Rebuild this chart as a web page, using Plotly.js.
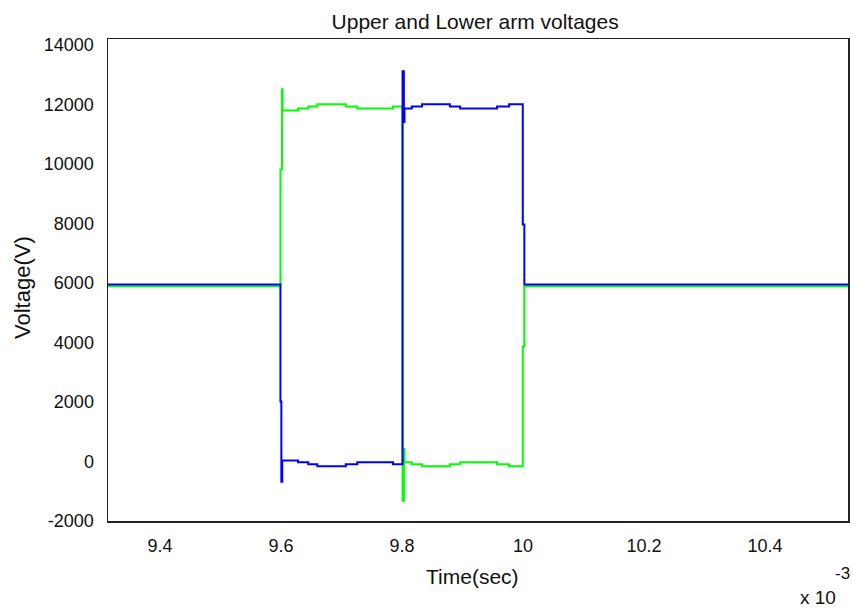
<!DOCTYPE html>
<html>
<head>
<meta charset="utf-8">
<script src="https://cdn.plot.ly/plotly-3.0.1.min.js"></script>
<style>html,body{margin:0;padding:0;background:#fff;}#chart{width:853px;height:610px;}</style>
</head>
<body>
<div id="chart"></div>
<script>
// time in units of 1e-3 s; step-wise (hv) samples
const upperTime = [9.314, 9.5990, 9.6005, 9.6020, 9.628, 9.645, 9.660, 9.707, 9.726, 9.785,
  9.8008, 9.8030, 9.8040, 9.816, 9.833, 9.879, 9.896, 9.957, 9.977, 9.9995, 10.0021, 10.537];
const upperVolt = [5946, 2017, -677, 30, -24, -91, -158, -91, -24, -91,
  13118, 11411, 11862, 11929, 12007, 11929, 11862, 11929, 12007, 7963, 5946, 5946];

const lowerTime = [9.314, 9.5990, 9.6015, 9.6025, 9.628, 9.645, 9.660, 9.707, 9.726, 9.785,
  9.8008, 9.8030, 9.8040, 9.816, 9.833, 9.879, 9.896, 9.957, 9.977, 9.9995, 10.0020, 10.537];
const lowerVolt = [5889, 9818, 12512, 11795, 11862, 11929, 12007, 11929, 11862, 11929,
  -1316, 424, -24, -91, -158, -91, -24, -91, -158, 3869, 5889, 5889];

const xTicks = [9.4, 9.6, 9.8, 10, 10.2, 10.4];
const xTickLabels = ['9.4', '9.6', '9.8', '10', '10.2', '10.4'];
const yTicks = [-2000, 0, 2000, 4000, 6000, 8000, 10000, 12000, 14000];
const yTickLabels = ['-2000', '0', '2000', '4000', '6000', '8000', '10000', '12000', '14000'];

const FONT = '"Liberation Sans", Arial, sans-serif';
const C = '#111';

const traces = [
  {x: lowerTime, y: lowerVolt, mode: 'lines', line: {color: '#00ff00', width: 2, shape: 'hv'}, name: 'Lower'},
  {x: upperTime, y: upperVolt, mode: 'lines', line: {color: '#0000ff', width: 2, shape: 'hv'}, name: 'Upper'}
];

const layout = {
  width: 853, height: 610,
  margin: {l: 108, r: 5, t: 39, b: 89, pad: 0},
  paper_bgcolor: '#fff', plot_bgcolor: '#fff',
  showlegend: false,
  font: {family: FONT, size: 18, color: C},
  title: {text: 'Upper and Lower arm voltages', font: {family: FONT, size: 21, color: C},
    x: 0.557, xanchor: 'center', y: 1 - 22/610, yanchor: 'middle', yref: 'container', xref: 'container'},
  xaxis: {range: [9.314, 10.537], tickvals: xTicks, ticktext: xTickLabels, ticks: '',
    showgrid: false, zeroline: false, showline: true, mirror: true, linecolor: '#222', linewidth: 1.5,
    ticklabelstandoff: 8, tickfont: {family: FONT, size: 18, color: C}},
  yaxis: {range: [-2000, 14200], tickvals: yTicks, ticktext: yTickLabels, ticks: '',
    showgrid: false, zeroline: false, showline: true, mirror: true, linecolor: '#222', linewidth: 1.5,
    ticklabelstandoff: 9, tickfont: {family: FONT, size: 18, color: C}},
  annotations: [
    {text: 'Time(sec)', xref: 'paper', yref: 'paper', x: (472-108)/740, y: -(576-521)/482, xanchor: 'center', yanchor: 'middle', showarrow: false, font: {family: FONT, size: 21, color: C}},
    {text: 'Voltage(V)', xref: 'paper', yref: 'paper', x: -(108-22)/740, y: (521-288)/482, xanchor: 'center', yanchor: 'middle', textangle: -90, showarrow: false, font: {family: FONT, size: 22, color: C}},
    {text: 'x 10', xref: 'paper', yref: 'paper', x: (818-108)/740, y: -(598-521)/482, xanchor: 'center', yanchor: 'middle', showarrow: false, font: {family: FONT, size: 19, color: C}},
    {text: '-3', xref: 'paper', yref: 'paper', x: (842-108)/740, y: -(573-521)/482, xanchor: 'center', yanchor: 'middle', showarrow: false, font: {family: FONT, size: 17, color: C}}
  ]
};

Plotly.newPlot('chart', traces, layout, {displayModeBar: false, staticPlot: true});
</script>
</body>
</html>
